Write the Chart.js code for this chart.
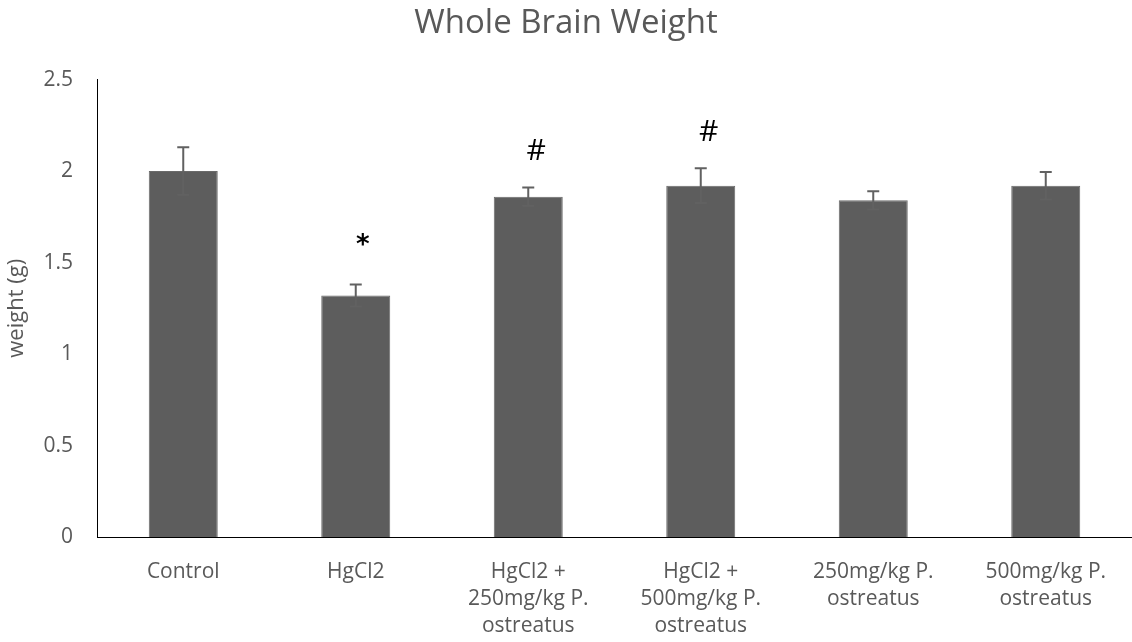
<!DOCTYPE html>
<html>
<head>
<meta charset="utf-8">
<script src="https://cdn.jsdelivr.net/npm/chart.js@4/dist/chart.umd.min.js"></script>
<style>
  html, body { margin: 0; padding: 0; background: #fff; }
  #wrap { width: 1132px; height: 642px; }
</style>
</head>
<body>
<div id="wrap"><canvas id="c" width="1132" height="642"></canvas></div>
<script>
// Group labels (multi-line), mean brain weight and its error
const groups = [
  ['Control'],
  ['HgCl2'],
  ['HgCl2 +', '250mg/kg P.', 'ostreatus'],
  ['HgCl2 +', '500mg/kg P.', 'ostreatus'],
  ['250mg/kg P.', 'ostreatus'],
  ['500mg/kg P.', 'ostreatus']
];
const weights = [2.00, 1.32, 1.86, 1.92, 1.84, 1.92];
const errors  = [0.13, 0.06, 0.05, 0.095, 0.05, 0.075];
const marks   = ['', '*', '#', '#', '', ''];
const yTicks  = [0, 0.5, 1, 1.5, 2, 2.5];

const textColor = '#595959';
const font = "'Open Sans', 'Noto Sans', sans-serif";

// Error bars with caps plus significance marks above them
const errorBarPlugin = {
  id: 'errorBars',
  afterDatasetsDraw(chart) {
    const ctx = chart.ctx;
    const meta = chart.getDatasetMeta(0);
    const y = chart.scales.y;
    ctx.save();
    meta.data.forEach((bar, i) => {
      const x = bar.x;
      const top = y.getPixelForValue(weights[i] + errors[i]);
      const bot = y.getPixelForValue(weights[i] - errors[i]);
      ctx.strokeStyle = '#616161';
      ctx.lineWidth = 2;
      ctx.beginPath();
      ctx.moveTo(x, top); ctx.lineTo(x, bot);
      ctx.moveTo(x - 6, top); ctx.lineTo(x + 6, top);
      ctx.moveTo(x - 6, bot); ctx.lineTo(x + 6, bot);
      ctx.stroke();
      if (marks[i]) {
        ctx.fillStyle = '#000';
        ctx.textAlign = 'center';
        ctx.textBaseline = 'middle';
        if (marks[i] === '*') {
          ctx.font = "bold 26px 'DejaVu Sans', sans-serif";
          ctx.fillText('*', x + 7, top - 38);
        } else {
          ctx.font = "30px " + font;
          ctx.fillText('#', x + 8, top - 36);
        }
      }
    });
    ctx.restore();
  }
};

new Chart(document.getElementById('c'), {
  type: 'bar',
  data: {
    labels: groups,
    datasets: [{
      data: weights,
      backgroundColor: '#5d5d5d',
      borderColor: '#6a6a6a',
      borderWidth: 1,
      barPercentage: 0.4,
      categoryPercentage: 1.0
    }]
  },
  options: {
    responsive: false,
    animation: false,
    devicePixelRatio: 1,
    layout: { padding: { top: 0, right: 0, bottom: 0, left: 0 } },
    plugins: {
      legend: { display: false },
      tooltip: { enabled: false },
      title: {
        display: true,
        text: 'Whole Brain Weight',
        color: textColor,
        font: { family: font, size: 33, weight: 'normal' },
        padding: { top: 4, bottom: 36 }
      }
    },
    scales: {
      x: {
        grid: { display: false, drawTicks: false },
        border: { display: true, color: '#000', width: 1 },
        ticks: {
          color: textColor,
          font: { family: font, size: 21, lineHeight: 1.3 },
          padding: 21,
          maxRotation: 0,
          autoSkip: false
        },
        afterFit(s) { s.height = 105; }
      },
      y: {
        min: 0,
        max: 2.5,
        grid: { display: false, drawTicks: false },
        border: { display: true, color: '#000', width: 1 },
        afterBuildTicks(s) { s.ticks = yTicks.map(v => ({ value: v })); },
        ticks: {
          color: textColor,
          font: { family: font, size: 21 },
          padding: 24,
          callback: v => String(v)
        },
        title: {
          display: true,
          text: 'weight (g)',
          color: textColor,
          font: { family: font, size: 22 },
          padding: { top: 4, bottom: 0 }
        },
        afterFit(s) { s.width = 97; }
      }
    }
  },
  plugins: [errorBarPlugin]
});
</script>
</body>
</html>
